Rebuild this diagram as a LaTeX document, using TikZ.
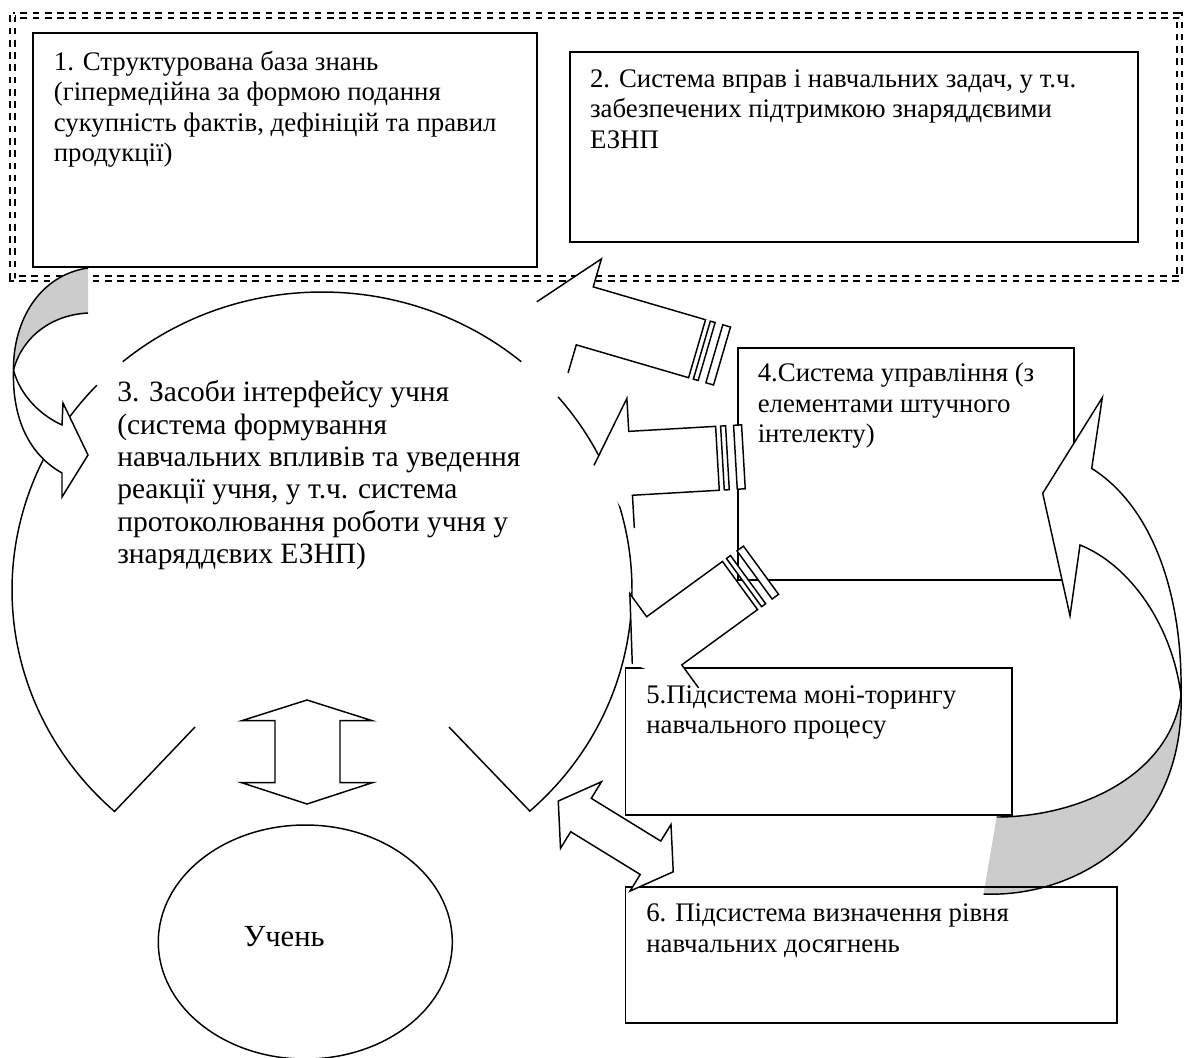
\documentclass[tikz,border=0pt]{standalone}
\usepackage{fontspec}
\setmainfont{Liberation Serif}
\usetikzlibrary{fit,shapes.geometric}
\definecolor{shadegray}{gray}{0.8}
\newcommand{\striparrow}[7]{%
\begin{scope}[shift={(#1)}, rotate=#2]
\fill[white] (#4,-#7) -- (#4,-#6) -- (#3,-#6) -- (#3,#6) -- (#4,#6) -- (#4,#7) -- (#5,0) -- cycle;
\draw[shp] (#4,-#7) -- (#4,-#6) -- (#3,-#6) -- (#3,#6) -- (#4,#6) -- (#4,#7) -- (#5,0);
\draw[shp, fill=white] (0,-#6) rectangle (8,#6);
\draw[shp, fill=white] (16,-#6) rectangle (21,#6);
\end{scope}}
\begin{document}
\begin{tikzpicture}[x=0.75pt,y=-0.75pt,
  box/.style={draw, line width=1.35pt, inner sep=0pt},
  shp/.style={line width=1.1pt, line join=miter},
  txt/.style={anchor=base west, inner sep=0pt, font=\fontsize{20.1pt}{22.9pt}\selectfont},
  bigtxt/.style={anchor=base west, inner sep=0pt, font=\fontsize{22.1pt}{24.3pt}\selectfont},
  border/.style={line width=1.5pt, double, double distance=2.1pt, dash pattern=on 5pt off 4.2pt}]
\useasboundingbox (0,0) rectangle (1184,1057);
% outer dashed frame
\draw[border] (12.5,15.3) rectangle (1179.5,278.5);
% boxes
\node[box, fit={(33,33) (537,267)}] (b1) {};
\node[box, fit={(570,51.7) (1138,241.7)}] (b2) {};
\node[box, fit={(737.7,347.7) (1074,580)}] (b4) {};
\node[box, fit={(625.4,667.7) (1012,815)}] (b5) {};
% big broken outline of block 3
\draw[shp] ({322+310*cos(130)},{590-298*sin(130)}) arc[start angle=-130, end angle=-50, x radius=310, y radius=298];
\draw[shp] ({322+310*cos(136.6)},{590-298*sin(136.6)}) arc[start angle=-136.6, end angle=-228, x radius=310, y radius=298] -- (195,727);
\draw[shp] ({322+310*cos(40.4)},{590-298*sin(40.4)}) arc[start angle=-40.4, end angle=47.9, x radius=310, y radius=298] -- (449,727);
% striped arrows from block 4
\striparrow{722,356}{163.7}{26}{143}{193}{30.2}{59.4}
\striparrow{743.4,456.8}{183.3}{26}{113}{149.7}{32}{65}
\striparrow{761,570.2}{216.1}{26}{119.8}{159.3}{29.8}{58.3}
% left curved arrow
\fill[shadegray] (88,268) .. controls (40,275) and (13,320) .. (13.5,370) .. controls (22,338) and (50,315) .. (88,313) -- cycle;
\draw[shp] (88,268) .. controls (40,275) and (13,320) .. (13.5,370);
\draw[shp] (13.5,370) .. controls (22,338) and (50,315) .. (88,313);
\draw[shp, fill=white] (13.5,370) .. controls (20,395) and (40,415) .. (62,425) -- (63,403) -- (88,455) -- (62,497) -- (62,473) .. controls (30,455) and (12,420) .. (13.5,370) -- cycle;
% right curved arrow
\fill[shadegray] (1181,695) .. controls (1170,775) and (1080,817) .. (996.7,817) -- (983.5,894) .. controls (1080,898) and (1185,830) .. (1181,695) -- cycle;
\draw[shp] (1181,695) .. controls (1170,775) and (1080,817) .. (996.7,817);
\draw[shp] (983.5,894) .. controls (1080,898) and (1185,830) .. (1181,695);
\draw[shp, fill=white] (1091.7,468.4) -- (1102.3,397.6) -- (1042.7,493.3) -- (1070,615.7) -- (1080,545) .. controls (1130,565) and (1172,625) .. (1181,695) .. controls (1183,590) and (1150,505) .. (1091.7,468.4) -- cycle;
% box 6
\node[box, fit={(625.4,886.7) (1117,1023.3)}] (b6) {};
% vertical double arrow
\draw[shp, fill=white] (307,700) -- (372.3,720.7) -- (340,720.7) -- (340,782.7) -- (372.3,782.7) -- (307,804) -- (241.7,782.7) -- (275,782.7) -- (275,720.7) -- (241.7,720.7) -- cycle;
% diagonal double arrow
\begin{scope}[shift={(615.75,836.4)}, rotate=-31.6]
\draw[shp, fill=white] (-67.5,0) -- (-40.8,39.1) -- (-40.8,19.6) -- (40.8,19.6) -- (40.8,39.1) -- (67.5,0) -- (40.8,-39.1) -- (40.8,-19.6) -- (-40.8,-19.6) -- (-40.8,-39.1) -- cycle;
\end{scope}
% pupil ellipse
\node[draw, line width=1.1pt, ellipse, inner sep=0pt, minimum width=220.5pt, minimum height=175.5pt] (st) at (305.3,942) {};
% texts
\node[txt] (t1) at (53.6,70) {\parbox[t]{600pt}{\raggedright 1. Структурована база знань\\(гіпермедійна за формою подання\\сукупність фактів, дефініцій та правил\\продукції)}};
\node[txt] (t2) at (589.8,87.3) {\parbox[t]{600pt}{\raggedright 2. Система вправ і навчальних задач, у т.ч.\\забезпечених підтримкою знаряддєвими\\ЕЗНП}};
\node[bigtxt] (t3) at (117,401.7) {\parbox[t]{600pt}{\raggedright 3. Засоби інтерфейсу учня\\(система формування\\навчальних впливів та уведення\\реакції учня, у т.ч. система\\протоколювання роботи учня у\\знаряддєвих ЕЗНП)}};
\node[txt] (t4) at (757.5,381.7) {\parbox[t]{600pt}{\raggedright 4.Система управління (з\\елементами штучного\\інтелекту)}};
\node[txt] (t5) at (646,703.3) {\parbox[t]{600pt}{\raggedright 5.Підсистема моні-торингу\\навчального процесу}};
\node[txt] (t6) at (646,921.7) {\parbox[t]{600pt}{\raggedright 6. Підсистема визначення рівня\\навчальних досягнень}};
\node[anchor=base west, inner sep=0pt, font=\fontsize{23pt}{27pt}\selectfont] (tst) at (243.3,946.7) {Учень};
\end{tikzpicture}
\end{document}
